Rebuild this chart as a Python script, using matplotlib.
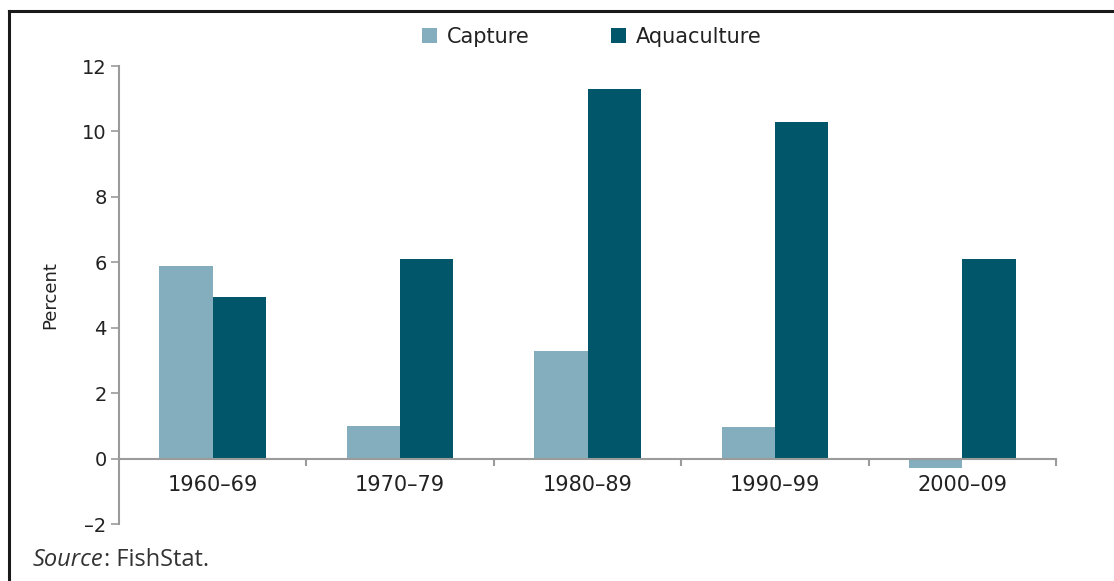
import numpy as np
import matplotlib
matplotlib.use("Agg")
import matplotlib.pyplot as plt
from matplotlib.lines import Line2D
from matplotlib.ticker import FixedLocator

periods = ["1960–69", "1970–79", "1980–89", "1990–99", "2000–09"]
capture = [5.9, 1.0, 3.3, 0.95, -0.3]
aquaculture = [4.95, 6.1, 11.3, 10.3, 6.1]
yticks = [-2, 0, 2, 4, 6, 8, 10, 12]
ytick_labels = ["–2", "0", "2", "4", "6", "8", "10", "12"]

CAPTURE_COLOR = "#84adbd"
AQUA_COLOR = "#02566a"
AXIS_GREY = "#9b9b9b"

plt.rcParams["font.family"] = ["DejaVu Sans"]

fig = plt.figure(figsize=(11.14, 5.81), dpi=100)
ax = fig.add_axes([119 / 1114, 1 - 524 / 581, 937 / 1114, 458 / 581])

x = np.arange(len(periods))
w = 0.284
ax.bar(x - w / 2, capture, width=w, color=CAPTURE_COLOR, label="Capture")
ax.bar(x + w / 2, aquaculture, width=w, color=AQUA_COLOR, label="Aquaculture")

ax.set_xlim(-0.5, len(periods) - 0.5)
ax.set_ylim(-2, 12)

for s in ["top", "right"]:
    ax.spines[s].set_visible(False)
ax.spines["bottom"].set_position(("data", 0))
for s in ["left", "bottom"]:
    ax.spines[s].set_color(AXIS_GREY)
    ax.spines[s].set_linewidth(1.5)

ax.set_yticks(yticks)
ax.set_yticklabels(ytick_labels)
ax.tick_params(axis="y", length=6, width=1.2, color=AXIS_GREY, pad=3,
               labelsize=14, labelcolor="#222222")

ax.set_xticks(x)
ax.set_xticklabels(periods)
ax.tick_params(axis="x", which="major", length=0, pad=12, labelsize=15,
               labelcolor="#222222")
ax.xaxis.set_minor_locator(FixedLocator(np.arange(0.5, len(periods), 1.0)))
ax.tick_params(axis="x", which="minor", length=5, width=1.5, color=AXIS_GREY,
               direction="out")

ax.set_ylabel("Percent", fontsize=13, family=["Liberation Sans Narrow", "DejaVu Sans"],
              labelpad=16, color="#222222")

fig.legend(loc="center", bbox_to_anchor=(0.531, 1 - 37 / 581), ncol=2,
           frameon=False, fontsize=15, handlelength=0.75, handleheight=0.75,
           columnspacing=3.9, handletextpad=0.45, labelcolor="#222222")

# outer frame (left and top edges visible)
fig.add_artist(Line2D([9 / 1114, 9 / 1114], [0, 1 - 11 / 581],
                      transform=fig.transFigure, color="#1a1a1a", lw=2.2))
fig.add_artist(Line2D([9 / 1114, 1], [1 - 11 / 581, 1 - 11 / 581],
                      transform=fig.transFigure, color="#1a1a1a", lw=2.2))

src = fig.text(33 / 1114, 1 - 560 / 581, "Source", fontsize=17, style="italic",
               family=["Open Sans", "DejaVu Sans"], color="#333333", va="center")
fig.canvas.draw()
bb = src.get_window_extent()
fig.text(bb.x1 / fig.bbox.width, 1 - 560 / 581, ": FishStat.", fontsize=17,
         family=["Open Sans", "DejaVu Sans"], color="#333333", va="center")

fig.savefig("out.png", dpi=100)
